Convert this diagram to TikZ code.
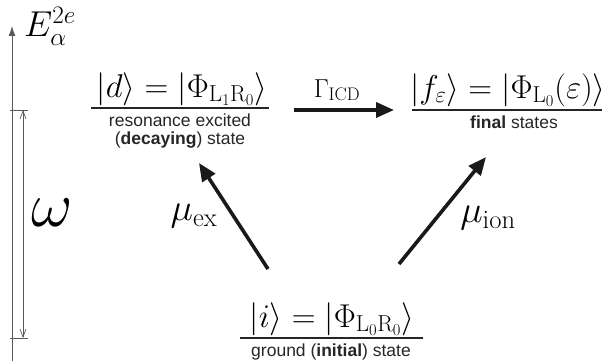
\documentclass[tikz,border=0pt]{standalone}
\usepackage{fontspec}
\setsansfont{Liberation Sans}
\DeclareFontShape{OML}{cmm}{m}{it}{<-6>cmmi5<6-7>cmmi6<7-8>cmmi7<8-9>cmmi8<9-10>cmmi9<10-12>cmmi10<12->cmmi12}{}
\DeclareFontShape{OT1}{cmr}{m}{n}{<-6>cmr5<6-7>cmr6<7-8>cmr7<8-9>cmr8<9-10>cmr9<10-12>cmr10<12-17>cmr12<17->cmr17}{}
\DeclareFontShape{OMS}{cmsy}{m}{n}{<-6>cmsy5<6-7>cmsy6<7-8>cmsy7<8-9>cmsy8<9-10>cmsy9<10->cmsy10}{}
\DeclareFontShape{OMX}{cmex}{m}{n}{<->cmex10}{}
\usetikzlibrary{arrows.meta}
\begin{document}
\begin{tikzpicture}[x=1pt,y=-1pt,
  axisline/.style={draw=black!65, line width=0.9pt},
  bigarrow/.style={draw=black!90, line width=3.6pt, -{Triangle[length=18pt,width=15pt]}},
  levelline/.style={draw=black!85, line width=1.4pt},
  mathbig/.style={font=\fontsize{33}{40}\selectfont, inner sep=0pt},
  mulabel/.style={font=\fontsize{38}{44}\selectfont, inner sep=0pt},
  desc/.style={font=\fontsize{17.5}{18}\selectfont\sffamily, align=center, inner sep=0pt, text=black!85}]
\useasboundingbox (0,0) rectangle (613,361);
% energy axis
\coordinate (axb) at (12,361);
\coordinate (axt) at (12,26);
\draw[axisline, -{Latex[length=10pt,width=7pt]}] (axb) -- (axt);
\node[font=\fontsize{36}{42}\selectfont, anchor=base west, inner sep=0pt] (E) at (24,37) {$E^{2e}_{\alpha}$};
% ticks
\coordinate (t1a) at (10,110); \coordinate (t1b) at (28,110);
\coordinate (t2a) at (10,338); \coordinate (t2b) at (28,338);
\draw[axisline] (t1a) -- (t1b);
\draw[axisline] (t2a) -- (t2b);
\coordinate (wa) at (23,110); \coordinate (wb) at (23,338);
\draw[draw=black!65, line width=0.7pt, {Straight Barb[length=8pt,width=6pt]}-{Straight Barb[length=8pt,width=6pt]}] (wa) -- (wb);
\node[font=\fontsize{64}{70}\selectfont, inner sep=0pt] (om) at (52,213) {$\omega$};
% decaying state
\node[mathbig, anchor=base] (d) at (182,97) {$|d\rangle = |\Phi_{\mathrm{L_1R_0}}\rangle$};
\coordinate (dl) at (91,108); \coordinate (dr) at (269,108);
\draw[levelline] (dl) -- (dr);
\node[desc, anchor=north] (dtext) at (180,114) {resonance excited\\(\textbf{decaying}) state};
% final states
\node[mathbig, anchor=base] (f) at (508,98) {$|f_\varepsilon\rangle = |\Phi_{\mathrm{L_0}}(\varepsilon)\rangle$};
\coordinate (fl) at (412,110); \coordinate (fr) at (602,110);
\draw[levelline] (fl) -- (fr);
\node[desc, anchor=north] (ftext) at (514,116) {\textbf{final} states};
% initial state
\node[mathbig, anchor=base] (i) at (332,327) {$|i\rangle = |\Phi_{\mathrm{L_0R_0}}\rangle$};
\coordinate (il) at (240,338); \coordinate (ir) at (423,338);
\draw[levelline] (il) -- (ir);
\node[desc, anchor=north] (itext) at (331,344) {ground (\textbf{initial}) state};
% ICD arrow
\coordinate (ga) at (294,110); \coordinate (gb) at (394,110);
\draw[bigarrow] (ga) -- (gb);
\node[font=\fontsize{26}{30}\selectfont, anchor=base, inner sep=0pt] (G) at (337,97) {$\Gamma_{\mathrm{ICD}}$};
% excitation and ionisation arrows
\coordinate (exa) at (268,269); \coordinate (exb) at (199,163);
\draw[bigarrow] (exa) -- (exb);
\node[mulabel] (mex) at (194,216) {$\mu_{\mathrm{ex}}$};
\coordinate (ioa) at (399,264); \coordinate (iob) at (486,157);
\draw[bigarrow] (ioa) -- (iob);
\node[mulabel] (mion) at (488,218) {$\mu_{\mathrm{ion}}$};
\end{tikzpicture}
\end{document}
